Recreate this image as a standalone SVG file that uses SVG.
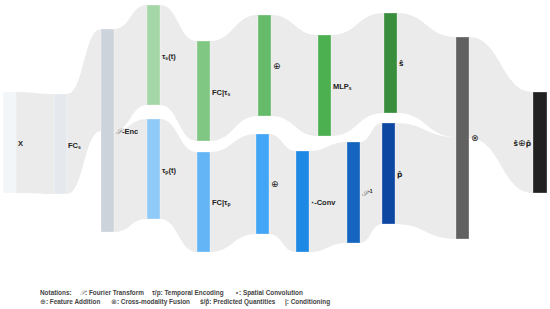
<svg xmlns="http://www.w3.org/2000/svg" width="550" height="309" viewBox="0 0 550 309">
<style>
.lk{fill:#ebebeb;stroke:none}
.nd{stroke:#ffffff;stroke-width:0.5;stroke-opacity:0.6}
.lb{font-family:"Liberation Sans",Arial,"DejaVu Sans",sans-serif;font-size:7.5px;font-weight:bold;fill:#222222;dominant-baseline:central}
.sb{font-size:5px}
.sy{font-family:"DejaVu Sans",sans-serif;font-size:9px;font-weight:normal}
.nt{font-family:"Liberation Sans",Arial,"DejaVu Sans",sans-serif;font-size:6.4px;font-weight:bold;fill:#444444}
.sc{font-family:"DejaVu Sans","Liberation Serif",serif;font-style:italic;font-weight:normal;fill:#777777}
</style>
<rect width="550" height="309" fill="#ffffff"/>
<g id="links">
<path class="lk" d="M16,92 C35,92 35,94 54,94 L54,194 C35,194 35,193 16,193 Z"/>
<path class="lk" d="M67,94 C84,94 84,29 101,29 L101,131 C84,131 84,194 67,194 Z"/>
<path class="lk" d="M114,29 C130.5,29 130.5,5 147,5 L147,105 C130.5,105 130.5,131 114,131 Z"/>
<path class="lk" d="M114,131 C130.5,131 130.5,119 147,119 L147,219 C130.5,219 130.5,232 114,232 Z"/>
<path class="lk" d="M160,5 C178.5,5 178.5,41 197,41 L197,141 C178.5,141 178.5,105 160,105 Z"/>
<path class="lk" d="M160,119 C178.5,119 178.5,152 197,152 L197,252 C178.5,252 178.5,219 160,219 Z"/>
<path class="lk" d="M210,41 C234,41 234,15 258,15 L258,116 C234,116 234,141 210,141 Z"/>
<path class="lk" d="M210,152 C233,152 233,134 256,134 L256,234 C233,234 233,252 210,252 Z"/>
<path class="lk" d="M271,15 C294.5,15 294.5,35 318,35 L318,136 C294.5,136 294.5,116 271,116 Z"/>
<path class="lk" d="M331,35 C357.5,35 357.5,13 384,13 L384,113 C357.5,113 357.5,136 331,136 Z"/>
<path class="lk" d="M269,134 C282.5,134 282.5,151 296,151 L296,252 C282.5,252 282.5,234 269,234 Z"/>
<path class="lk" d="M309,151 C328,151 328,142 347,142 L347,243 C328,243 328,252 309,252 Z"/>
<path class="lk" d="M360,142 C371,142 371,123 382,123 L382,224 C371,224 371,243 360,243 Z"/>
<path class="lk" d="M397,13 C426.5,13 426.5,37 456,37 L456,137 C426.5,137 426.5,113 397,113 Z"/>
<path class="lk" d="M395,123 C425.5,123 425.5,137 456,137 L456,239 C425.5,239 425.5,224 395,224 Z"/>
<path class="lk" d="M469,37 C501,37 501,92 533,92 L533,193 C501,193 501,138 469,138 Z"/>
</g>
<g id="n-x"><rect class="nd" x="3" y="92" width="13" height="101" fill="#f3f6f9"/><text class="lb" x="18" y="143">X</text></g>
<g id="n-fcs"><rect class="nd" x="54" y="94" width="13" height="100" fill="#e5e9ee"/><text class="lb" x="68" y="145">FC<tspan class="sb" dy="1.5">s</tspan></text></g>
<g id="n-enc"><rect class="nd" x="101" y="29" width="13" height="203" fill="#cdd3da"/><text class="lb" x="116" y="131"><tspan class="sc">𝒮</tspan>-Enc</text></g>
<g id="n-taus"><rect class="nd" x="147" y="5" width="13" height="100" fill="#a5d6a7"/><text class="lb" x="162" y="56">τ<tspan class="sb" dy="1.5">s</tspan><tspan dy="-1.5">(t)</tspan></text></g>
<g id="n-taup"><rect class="nd" x="147" y="119" width="13" height="100" fill="#90caf9"/><text class="lb" x="162" y="170">τ<tspan class="sb" dy="1.5">p</tspan><tspan dy="-1.5">(t)</tspan></text></g>
<g id="n-fcts"><rect class="nd" x="197" y="41" width="13" height="100" fill="#81c784"/><text class="lb" x="212" y="92">FC|τ<tspan class="sb" dy="1.5">s</tspan></text></g>
<g id="n-fctp"><rect class="nd" x="197" y="152" width="13" height="100" fill="#64b5f6"/><text class="lb" x="212" y="202">FC|τ<tspan class="sb" dy="1.5">p</tspan></text></g>
<g id="n-adds"><rect class="nd" x="258" y="15" width="13" height="101" fill="#66bb6a"/><text class="lb" x="273" y="66"><tspan class="sy">⊕</tspan></text></g>
<g id="n-addp"><rect class="nd" x="256" y="134" width="13" height="100" fill="#42a5f5"/><text class="lb" x="271" y="184"><tspan class="sy">⊕</tspan></text></g>
<g id="n-mlp"><rect class="nd" x="318" y="35" width="13" height="101" fill="#4caf50"/><text class="lb" x="333" y="86">MLP<tspan class="sb" dy="1.5">s</tspan></text></g>
<g id="n-conv"><rect class="nd" x="296" y="151" width="13" height="101" fill="#1e88e5"/><text class="lb" x="311" y="202"><tspan style="font-size:5px">⋆</tspan>-Conv</text></g>
<g id="n-inv"><rect class="nd" x="347" y="142" width="13" height="101" fill="#1565c0"/><text class="lb" x="362" y="193"><tspan class="sc">𝒮</tspan><tspan class="sb" dy="-2">-1</tspan></text></g>
<g id="n-shat"><rect class="nd" x="384" y="13" width="13" height="100" fill="#388e3c"/><text class="lb" x="399" y="63" style="font-family:'DejaVu Sans',sans-serif">ŝ</text></g>
<g id="n-phat"><rect class="nd" x="382" y="123" width="13" height="101" fill="#0d47a1"/><text class="lb" x="397" y="174" style="font-family:'DejaVu Sans',sans-serif">p̂</text></g>
<g id="n-fuse"><rect class="nd" x="456" y="37" width="13" height="202" fill="#616161"/><text class="lb" x="471" y="138"><tspan class="sy">⊗</tspan></text></g>
<g id="n-out"><rect class="nd" x="533" y="92" width="14" height="101" fill="#212121"/><text class="lb" x="531" y="143" text-anchor="end" style="font-family:'DejaVu Sans',sans-serif">ŝ<tspan class="sy">⊕</tspan>p̂</text></g>
<g id="notations">
<text class="nt" x="40" y="295">Notations:</text>
<text class="nt" x="80" y="295"><tspan class="sc">𝒮</tspan>: Fourier Transform</text>
<text class="nt" x="152" y="295">τ/p: Temporal Encoding</text>
<text class="nt" x="235" y="295">⋆: Spatial Convolution</text>
<text class="nt" x="40" y="304"><tspan class="sy" style="font-size:7px">⊕</tspan>: Feature Addition</text>
<text class="nt" x="111" y="304"><tspan class="sy" style="font-size:7px">⊗</tspan>: Cross-modality Fusion</text>
<text class="nt" x="200" y="304">ŝ/p̂: Predicted Quantities</text>
<text class="nt" x="285" y="304">|: Conditioning</text>
</g>
</svg>
